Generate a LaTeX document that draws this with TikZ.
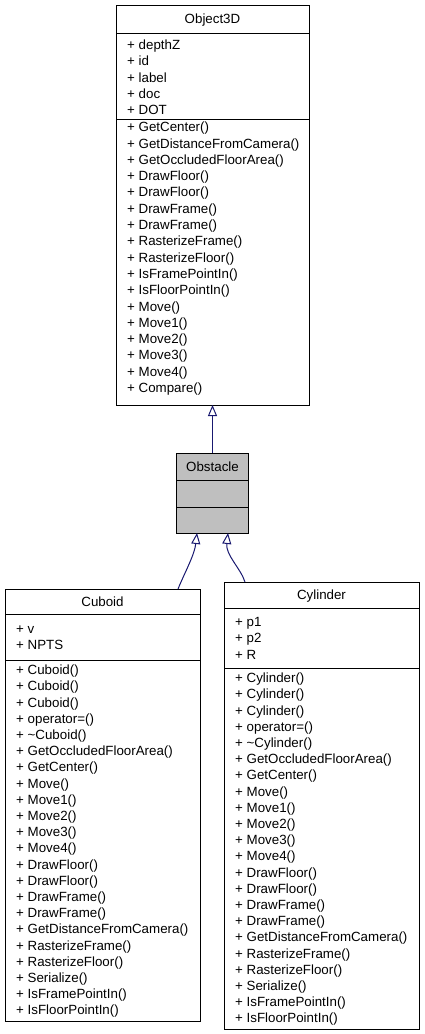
\documentclass[tikz,border=0pt]{standalone}
\usepackage{fontspec}
\setmainfont{Liberation Sans}
\usetikzlibrary{arrows.meta,calc}

\definecolor{edgeblue}{RGB}{25,25,112}
\definecolor{boxgray}{RGB}{191,191,191}

\tikzset{
  classbox/.style={draw=black,line width=1pt,fill=white,rectangle,inner sep=0pt,outer sep=0pt,anchor=north west},
  classname/.style={anchor=base,inner sep=0pt,font=\fontsize{13.33}{16}\selectfont},
  member/.style={anchor=base west,inner sep=0pt,font=\fontsize{13.33}{16}\selectfont},
  compartment/.style={draw=black,line width=1pt},
  inherit/.style={draw=edgeblue,line width=1pt,-{Triangle[open,length=11pt,width=9pt]}},
}

\begin{document}
\begin{tikzpicture}[x=1pt,y=-1pt]
\useasboundingbox (0,0) rectangle (424,1034);

% base class
\node[classbox,minimum width=193pt,minimum height=400pt] (object3d) at (116,5) {};
\draw[compartment] (116,33) -- (309,33);
\draw[compartment] (116,119) -- (309,119);
\node[classname] (object3d-name) at (212.5,23.7) {Object3D};
\foreach \m [count=\i from 0] in {depthZ,id,label,doc,DOT}
  \node[member] (object3d-attr\i) at (127,{49.7+16.25*\i}) {+ \m};
\foreach \m [count=\i from 0] in {GetCenter(),GetDistanceFromCamera(),GetOccludedFloorArea(),DrawFloor(),DrawFloor(),DrawFrame(),DrawFrame(),RasterizeFrame(),RasterizeFloor(),IsFramePointIn(),IsFloorPointIn(),Move(),Move1(),Move2(),Move3(),Move4(),Compare()}
  \node[member] (object3d-op\i) at (127,{131.7+16.3*\i}) {+ \m};

% Obstacle
\node[classbox,fill=boxgray,minimum width=72pt,minimum height=80pt] (obstacle) at (176.5,453) {};
\draw[compartment] (176.5,480) -- (248.5,480);
\draw[compartment] (176.5,507) -- (248.5,507);
\node[classname] (obstacle-name) at (212.5,471.2) {Obstacle};

% Cuboid
\node[classbox,minimum width=195pt,minimum height=432pt] (cuboid) at (5,589) {};
\draw[compartment] (5,614) -- (200,614);
\draw[compartment] (5,660) -- (200,660);
\node[classname] (cuboid-name) at (102.5,606.2) {Cuboid};
\foreach \m [count=\i from 0] in {v,NPTS}
  \node[member] (cuboid-attr\i) at (16,{633.7+16.2*\i}) {+ \m};
\foreach \m [count=\i from 0] in {Cuboid(),Cuboid(),Cuboid(),operator=(),{\textasciitilde Cuboid()},GetOccludedFloorArea(),GetCenter(),Move(),Move1(),Move2(),Move3(),Move4(),DrawFloor(),DrawFloor(),DrawFrame(),DrawFrame(),GetDistanceFromCamera(),RasterizeFrame(),RasterizeFloor(),Serialize(),IsFramePointIn(),IsFloorPointIn()}
  \node[member] (cuboid-op\i) at (16,{674.7+16.2*\i}) {+ \m};

% Cylinder
\node[classbox,minimum width=195pt,minimum height=447pt] (cylinder) at (224,582) {};
\draw[compartment] (224,608) -- (419,608);
\draw[compartment] (224,668) -- (419,668);
\node[classname] (cylinder-name) at (321.5,599.7) {Cylinder};
\foreach \m [count=\i from 0] in {p1,p2,R}
  \node[member] (cylinder-attr\i) at (235,{626.7+16.2*\i}) {+ \m};
\foreach \m [count=\i from 0] in {Cylinder(),Cylinder(),Cylinder(),operator=(),{\textasciitilde Cylinder()},GetOccludedFloorArea(),GetCenter(),Move(),Move1(),Move2(),Move3(),Move4(),DrawFloor(),DrawFloor(),DrawFrame(),DrawFrame(),GetDistanceFromCamera(),RasterizeFrame(),RasterizeFloor(),Serialize(),IsFramePointIn(),IsFloorPointIn()}
  \node[member] (cylinder-op\i) at (235,{682.7+16.2*\i}) {+ \m};

% inheritance
\draw[inherit] (obstacle.north) -- (object3d.south);
\draw[inherit] ($(cuboid.north)+(75.5,0)$) .. controls ($(cuboid.north)+(82,-16)$) and ($(obstacle.south)+(-18,22)$) .. ($(obstacle.south)+(-15.5,0)$);
\draw[inherit] ($(cylinder.north)+(-76.5,0)$) .. controls ($(cylinder.north)+(-81,-14)$) and ($(obstacle.south)+(13,22)$) .. ($(obstacle.south)+(15.5,0)$);

\end{tikzpicture}
\end{document}
